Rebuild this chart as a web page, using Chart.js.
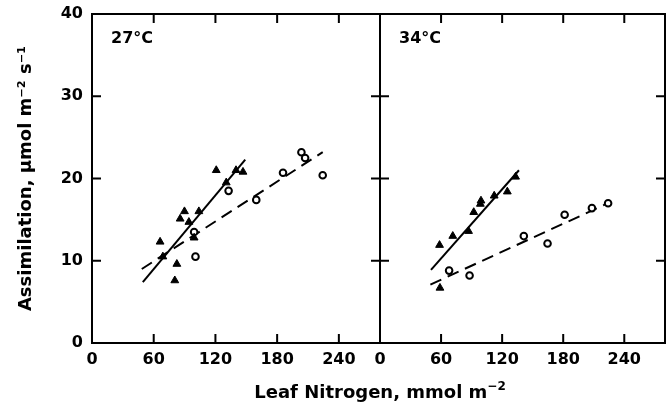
<!DOCTYPE html>
<html>
<head>
<meta charset="utf-8">
<script src="https://cdn.jsdelivr.net/npm/chart.js@4.4.1/dist/chart.umd.min.js"></script>
<style>
  html, body { margin: 0; padding: 0; background: #fff; }
  #wrap { position: relative; width: 671px; height: 406px; overflow: hidden; }
  canvas { position: absolute; top: 0; }
  #xtitle {
    position: absolute; left: 180px; width: 400px; top: 382px;
    font: bold 18px "DejaVu Sans"; line-height: 20px; text-align: center; color: #000;
  }
  #xtitle sup { font-size: 12px; line-height: 0; vertical-align: 8px; }
</style>
</head>
<body>
<div id="wrap">
  <canvas id="left" width="388" height="406" style="left:0"></canvas>
  <canvas id="right" width="311" height="406" style="left:360px"></canvas>
  <div id="xtitle">Leaf Nitrogen, mmol m<sup>−2</sup></div>
</div>
<script>
const xTicks = [0, 60, 120, 180, 240]
const yTicks = [0, 10, 20, 30, 40]

// 27 C panel
const n27Tri = [120.8, 140.0, 146.8, 130.5, 89.9, 103.9, 85.7, 94.2, 99.3, 66.2, 68.9, 82.5, 80.5]
const a27Tri = [21.0, 21.0, 20.8, 19.5, 16.0, 16.0, 15.1, 14.7, 12.8, 12.3, 10.5, 9.6, 7.6]
const n27Circ = [132.8, 159.7, 185.7, 203.6, 207.2, 224.3, 99.3, 100.6]
const a27Circ = [18.5, 17.4, 20.7, 23.2, 22.5, 20.4, 13.5, 10.5]
const n27SolidFit = [49.4, 149.0]
const a27SolidFit = [7.4, 22.3]
const n27DashFit = [48.4, 224.3]
const a27DashFit = [9.0, 23.2]

// 34 C panel
const n34Tri = [133.2, 125.1, 112.2, 99.2, 98.6, 92.1, 87.0, 71.5, 58.5, 58.9]
const a34Tri = [20.2, 18.4, 17.9, 17.3, 16.9, 15.9, 13.6, 13.0, 11.9, 6.7]
const n34Circ = [67.9, 88.0, 141.3, 164.6, 181.4, 208.2, 224.1]
const a34Circ = [8.8, 8.2, 13.0, 12.1, 15.6, 16.4, 17.0]
const n34SolidFit = [50.1, 136.5]
const a34SolidFit = [8.9, 21.0]
const n34DashFit = [49.5, 224.1]
const a34DashFit = [7.1, 17.0]

const pts = (xs, ys) => xs.map((x, i) => ({ x: x, y: ys[i] }))
const tickFont = { family: 'DejaVu Sans', size: 16, weight: 'bold' }

// box around plot, inward tick marks on all four sides, panel label
const framePlugin = {
  id: 'frame',
  afterDraw(chart, args, opts) {
    const { ctx, chartArea: a } = chart
    const x = chart.scales.x, y = chart.scales.y
    ctx.save()
    ctx.strokeStyle = '#000'
    ctx.lineWidth = 2
    ctx.strokeRect(a.left, a.top, a.width, a.height)
    ctx.beginPath()
    xTicks.slice(1).forEach(v => {
      const px = x.getPixelForValue(v)
      ctx.moveTo(px, a.bottom); ctx.lineTo(px, a.bottom - 9)
      ctx.moveTo(px, a.top); ctx.lineTo(px, a.top + 9)
    })
    yTicks.slice(1, -1).forEach(v => {
      const py = y.getPixelForValue(v)
      ctx.moveTo(a.left, py); ctx.lineTo(a.left + 9, py)
      ctx.moveTo(a.right, py); ctx.lineTo(a.right - 9, py)
    })
    ctx.stroke()
    ctx.fillStyle = '#000'
    ctx.font = 'bold 16px "DejaVu Sans"'
    ctx.textBaseline = 'middle'
    ctx.fillText(opts.label, a.left + 19, a.top + 25)
    ctx.restore()
  }
}

function makePanel(id, label, showY, padLeft, padRight, data) {
  return new Chart(document.getElementById(id), {
    type: 'scatter',
    data: {
      datasets: [{
        data: pts(data.triX, data.triY),
        pointStyle: 'triangle',
        pointRadius: 4.5,
        backgroundColor: '#000',
        borderColor: '#000',
        borderWidth: 1
      }, {
        data: pts(data.circX, data.circY),
        pointStyle: 'circle',
        pointRadius: 3.3,
        backgroundColor: '#fff',
        borderColor: '#000',
        borderWidth: 2
      }, {
        data: pts(data.solidX, data.solidY),
        showLine: true,
        pointRadius: 0,
        borderColor: '#000',
        borderWidth: 2
      }, {
        data: pts(data.dashX, data.dashY),
        showLine: true,
        pointRadius: 0,
        borderColor: '#000',
        borderWidth: 2,
        borderDash: [12, 7]
      }]
    },
    options: {
      responsive: false,
      animation: false,
      devicePixelRatio: 1,
      layout: { padding: { top: 14, left: padLeft, right: padRight, bottom: 0 } },
      plugins: {
        legend: { display: false },
        tooltip: { enabled: false },
        frame: { label: label }
      },
      scales: {
        x: {
          type: 'linear', min: 0, max: 280,
          afterBuildTicks: s => { s.ticks = xTicks.map(v => ({ value: v })) },
          afterFit: s => { s.height = 63; s.paddingLeft = 0; s.paddingRight = 0 },
          grid: { display: false, drawTicks: false },
          border: { display: false },
          ticks: { color: '#000', font: tickFont, padding: 7, maxRotation: 0, autoSkip: false }
        },
        y: {
          display: showY,
          type: 'linear', min: 0, max: 40,
          afterBuildTicks: s => { s.ticks = yTicks.map(v => ({ value: v })) },
          afterFit: s => { s.width = showY ? 92 : 0; s.paddingTop = 0; s.paddingBottom = 0 },
          grid: { display: false, drawTicks: false },
          border: { display: false },
          ticks: { color: '#000', font: tickFont, padding: 9 },
          title: {
            display: true,
            text: 'Assimilation, μmol m⁻² s⁻¹',
            color: '#000',
            font: { family: 'DejaVu Sans', size: 18, weight: 'bold' },
            padding: { top: 16, bottom: 0 }
          }
        }
      }
    },
    plugins: [framePlugin]
  })
}

makePanel('left', '27°C', true, 0, 8, {
  triX: n27Tri, triY: a27Tri, circX: n27Circ, circY: a27Circ,
  solidX: n27SolidFit, solidY: a27SolidFit, dashX: n27DashFit, dashY: a27DashFit
})
makePanel('right', '34°C', false, 20, 3, {
  triX: n34Tri, triY: a34Tri, circX: n34Circ, circY: a34Circ,
  solidX: n34SolidFit, solidY: a34SolidFit, dashX: n34DashFit, dashY: a34DashFit
})
</script>
</body>
</html>
